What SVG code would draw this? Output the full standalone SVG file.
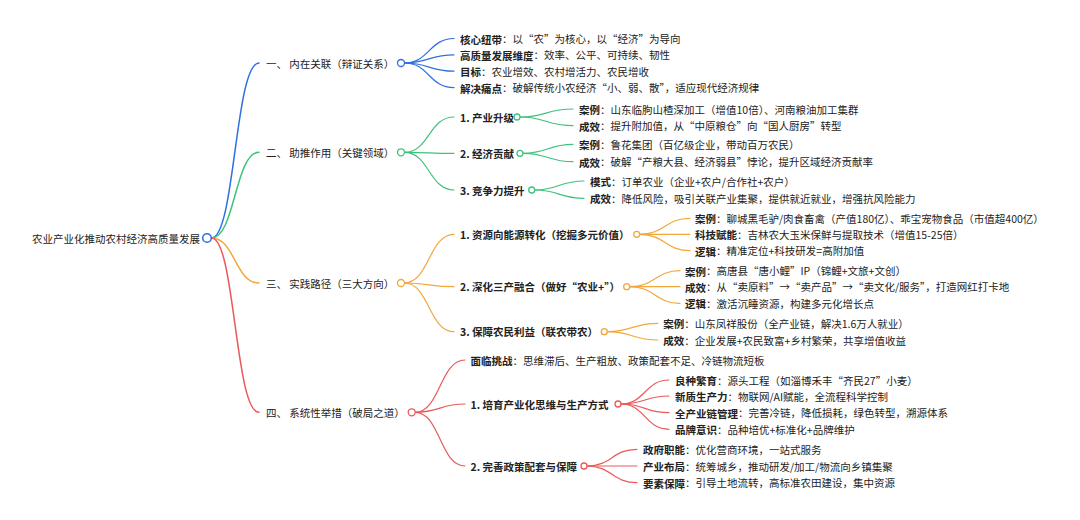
<svg xmlns="http://www.w3.org/2000/svg" width="1080" height="520" viewBox="0 0 1080 520">
<style>
text{font-family:"Noto Sans CJK SC","Noto Sans",sans-serif;font-size:10.5px;fill:#222;dominant-baseline:central}
.b{font-weight:bold}
.c{fill:none;stroke-linecap:round}
.l0{stroke-width:1.5}
.l1{stroke-width:1.2}
.blue{stroke:#2f6fde}
.green{stroke:#3fc27c}
.orange{stroke:#f3a73b}
.red{stroke:#ea5a5a}
.dot{fill:#fff;stroke-width:1.3}
</style>
<rect width="1080" height="520" fill="#fff"/>
<g id="connectors">
<path class="c l0 blue" d="M211.5,238 C235,238 235,63 259,63"/>
<path class="c l0 green" d="M211.5,238 C235,238 235,152.3 259,152.3"/>
<path class="c l0 orange" d="M211.5,238 C235,238 235,283 259,283"/>
<path class="c l0 red" d="M211.5,238 C235,238 235,412.3 259,412.3"/>

<path class="c l1 blue" d="M404.5,63 C429,63 429,38.5 454,38.5"/>
<path class="c l1 blue" d="M404.5,63 C429,63 429,54.8 454,54.8"/>
<path class="c l1 blue" d="M404.5,63 C429,63 429,71.2 454,71.2"/>
<path class="c l1 blue" d="M404.5,63 C429,63 429,87.6 454,87.6"/>

<path class="c l1 green" d="M404.5,152.3 C429,152.3 429,117 454,117"/>
<path class="c l1 green" d="M404.5,152.3 C429,152.3 429,153.3 454,153.3"/>
<path class="c l1 green" d="M404.5,152.3 C429,152.3 429,190 454,190"/>

<path class="c l1 orange" d="M404.5,283 C429,283 429,234.3 454,234.3"/>
<path class="c l1 orange" d="M404.5,283 C429,283 429,286.7 454,286.7"/>
<path class="c l1 orange" d="M404.5,283 C429,283 429,331.7 454,331.7"/>

<path class="c l1 red" d="M415.2,412.3 C440,412.3 440,360 465,360"/>
<path class="c l1 red" d="M415.2,412.3 C440,412.3 440,404 465,404"/>
<path class="c l1 red" d="M415.2,412.3 C440,412.3 440,466 465,466"/>

<path class="c l1 green" d="M520,117 C546,117 546,109 573,109"/>
<path class="c l1 green" d="M520,117 C546,117 546,125.7 573,125.7"/>
<path class="c l1 green" d="M523,153.3 C548,153.3 548,144.3 573,144.3"/>
<path class="c l1 green" d="M523,153.3 C548,153.3 548,161.7 573,161.7"/>
<path class="c l1 green" d="M534.7,190 C559,190 559,181 584,181"/>
<path class="c l1 green" d="M534.7,190 C559,190 559,198.3 584,198.3"/>

<path class="c l1 orange" d="M639.7,234.3 C665,234.3 665,218.3 690,218.3"/>
<path class="c l1 orange" d="M639.7,234.3 C665,234.3 665,234.3 690,234.3"/>
<path class="c l1 orange" d="M639.7,234.3 C665,234.3 665,250.7 690,250.7"/>
<path class="c l1 orange" d="M629.7,286.7 C655,286.7 655,270.7 680,270.7"/>
<path class="c l1 orange" d="M629.7,286.7 C655,286.7 655,286.7 680,286.7"/>
<path class="c l1 orange" d="M629.7,286.7 C655,286.7 655,303.3 680,303.3"/>
<path class="c l1 orange" d="M607.3,331.7 C632,331.7 632,323.3 658,323.3"/>
<path class="c l1 orange" d="M607.3,331.7 C632,331.7 632,340 658,340"/>

<path class="c l1 red" d="M621,404 C645,404 645,380 669,380"/>
<path class="c l1 red" d="M621,404 C645,404 645,396 669,396"/>
<path class="c l1 red" d="M621,404 C645,404 645,412.7 669,412.7"/>
<path class="c l1 red" d="M621,404 C645,404 645,429.3 669,429.3"/>
<path class="c l1 red" d="M587,466 C612,466 612,449.3 637,449.3"/>
<path class="c l1 red" d="M587,466 C612,466 612,466 637,466"/>
<path class="c l1 red" d="M587,466 C612,466 612,482.7 637,482.7"/>
</g>

<g id="root">
<text x="32" y="238">农业产业化推动农村经济高质量发展</text>
<circle class="dot blue" cx="207" cy="238" r="4.3" style="stroke-width:1.6"/>
</g>

<g id="n1">
<text x="266" y="63">一、 内在关联（辩证关系）</text>
<circle class="dot blue" cx="401" cy="63" r="3.5"/>
</g>
<g id="n1-1"><text x="460" y="38.5"><tspan class="b">核心纽带</tspan>：以“农”为核心，以“经济”为导向</text></g>
<g id="n1-2"><text x="460" y="54.8"><tspan class="b">高质量发展维度</tspan>：效率、公平、可持续、韧性</text></g>
<g id="n1-3"><text x="460" y="71.2"><tspan class="b">目标</tspan>：农业增效、农村增活力、农民增收</text></g>
<g id="n1-4"><text x="460" y="87.6"><tspan class="b">解决痛点</tspan>：破解传统小农经济“小、弱、散”，适应现代经济规律</text></g>

<g id="n2">
<text x="266" y="152.3">二、 助推作用（关键领域）</text>
<circle class="dot green" cx="401" cy="152.3" r="3.5"/>
</g>
<g id="n2-1">
<text x="460" y="117" class="b">1. 产业升级</text>
<circle class="dot green" cx="517" cy="117" r="3"/>
</g>
<g id="n2-1-1"><text x="579" y="109"><tspan class="b">案例</tspan>：山东临朐山楂深加工（增值10倍）、河南粮油加工集群</text></g>
<g id="n2-1-2"><text x="579" y="125.7"><tspan class="b">成效</tspan>：提升附加值，从“中原粮仓”向“国人厨房”转型</text></g>
<g id="n2-2">
<text x="460" y="153.3" class="b">2. 经济贡献</text>
<circle class="dot green" cx="520" cy="153.3" r="3"/>
</g>
<g id="n2-2-1"><text x="579" y="144.3"><tspan class="b">案例</tspan>：鲁花集团（百亿级企业，带动百万农民）</text></g>
<g id="n2-2-2"><text x="579" y="161.7"><tspan class="b">成效</tspan>：破解“产粮大县、经济弱县”悖论，提升区域经济贡献率</text></g>
<g id="n2-3">
<text x="460" y="190" class="b">3. 竞争力提升</text>
<circle class="dot green" cx="531.7" cy="190" r="3"/>
</g>
<g id="n2-3-1"><text x="590" y="181"><tspan class="b">模式</tspan>：订单农业（企业+农户/合作社+农户）</text></g>
<g id="n2-3-2"><text x="590" y="198.3"><tspan class="b">成效</tspan>：降低风险，吸引关联产业集聚，提供就近就业，增强抗风险能力</text></g>

<g id="n3">
<text x="266" y="283">三、 实践路径（三大方向）</text>
<circle class="dot orange" cx="401" cy="283" r="3.5"/>
</g>
<g id="n3-1">
<text x="460" y="234.3" class="b">1. 资源向能源转化（挖掘多元价值）</text>
<circle class="dot orange" cx="636.7" cy="234.3" r="3"/>
</g>
<g id="n3-1-1"><text x="695" y="218.3"><tspan class="b">案例</tspan>：聊城黑毛驴/肉食畜禽（产值180亿）、乖宝宠物食品（市值超400亿）</text></g>
<g id="n3-1-2"><text x="695" y="234.3"><tspan class="b">科技赋能</tspan>：吉林农大玉米保鲜与提取技术（增值15-25倍）</text></g>
<g id="n3-1-3"><text x="695" y="250.7"><tspan class="b">逻辑</tspan>：精准定位+科技研发=高附加值</text></g>
<g id="n3-2">
<text x="460" y="286.7" class="b">2. 深化三产融合（做好“农业+”）</text>
<circle class="dot orange" cx="626.7" cy="286.7" r="3"/>
</g>
<g id="n3-2-1"><text x="685" y="270.7"><tspan class="b">案例</tspan>：高唐县“唐小鲤”IP（锦鲤+文旅+文创）</text></g>
<g id="n3-2-2"><text x="685" y="286.7"><tspan class="b">成效</tspan>：从“卖原料”→“卖产品”→“卖文化/服务”，打造网红打卡地</text></g>
<g id="n3-2-3"><text x="685" y="303.3"><tspan class="b">逻辑</tspan>：激活沉睡资源，构建多元化增长点</text></g>
<g id="n3-3">
<text x="460" y="331.7" class="b">3. 保障农民利益（联农带农）</text>
<circle class="dot orange" cx="604.3" cy="331.7" r="3"/>
</g>
<g id="n3-3-1"><text x="663.3" y="323.3"><tspan class="b">案例</tspan>：山东凤祥股份（全产业链，解决1.6万人就业）</text></g>
<g id="n3-3-2"><text x="663.3" y="340"><tspan class="b">成效</tspan>：企业发展+农民致富+乡村繁荣，共享增值收益</text></g>

<g id="n4">
<text x="266" y="412.3">四、 系统性举措（破局之道）</text>
<circle class="dot red" cx="411.7" cy="412.3" r="3.5"/>
</g>
<g id="n4-0"><text x="470.5" y="360"><tspan class="b">面临挑战</tspan>：思维滞后、生产粗放、政策配套不足、冷链物流短板</text></g>
<g id="n4-1">
<text x="470.5" y="404" class="b">1. 培育产业化思维与生产方式</text>
<circle class="dot red" cx="618" cy="404" r="3"/>
</g>
<g id="n4-1-1"><text x="675" y="380"><tspan class="b">良种繁育</tspan>：源头工程（如淄博禾丰“齐民27”小麦）</text></g>
<g id="n4-1-2"><text x="675" y="396"><tspan class="b">新质生产力</tspan>：物联网/AI赋能，全流程科学控制</text></g>
<g id="n4-1-3"><text x="675" y="412.7"><tspan class="b">全产业链管理</tspan>：完善冷链，降低损耗，绿色转型，溯源体系</text></g>
<g id="n4-1-4"><text x="675" y="429.3"><tspan class="b">品牌意识</tspan>：品种培优+标准化+品牌维护</text></g>
<g id="n4-2">
<text x="470.5" y="466" class="b">2. 完善政策配套与保障</text>
<circle class="dot red" cx="584" cy="466" r="3"/>
</g>
<g id="n4-2-1"><text x="643" y="449.3"><tspan class="b">政府职能</tspan>：优化营商环境，一站式服务</text></g>
<g id="n4-2-2"><text x="643" y="466"><tspan class="b">产业布局</tspan>：统筹城乡，推动研发/加工/物流向乡镇集聚</text></g>
<g id="n4-2-3"><text x="643" y="482.7"><tspan class="b">要素保障</tspan>：引导土地流转，高标准农田建设，集中资源</text></g>
</svg>
